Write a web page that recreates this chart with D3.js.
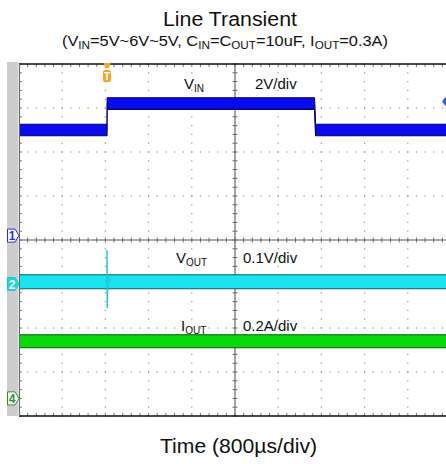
<!DOCTYPE html>
<html><head><meta charset="utf-8">
<script src="https://cdn.jsdelivr.net/npm/d3@7"></script>
<style>
html,body{margin:0;padding:0;background:#fff;}
svg{display:block;font-family:"Liberation Sans",Arial,Helvetica,sans-serif;}
</style></head>
<body><svg id="chart" width="446" height="464"></svg>
<script>
// ---- data ----
const timeDomainUs = [0, 8000];          // 10 div x 800 µs/div
const hDivisions = 10;
const vDivisions = 8;
const minorPerDiv = 5;

// VIN (CH1, 2 V/div)
const vinTimeUs = [0, 1630, 1633, 5472, 5492, 8000];
const vinVolts  = [4.8, 4.8, 6.0, 6.0, 4.8, 4.8];
// VOUT (CH2, 0.1 V/div, deviation around its offset)
const voutTimeUs = [0, 8000];
const voutVolts  = [0.005, 0.005];
const voutSpikeTimeUs = [1600, 1626, 1630, 1634, 1648, 1690];
const voutSpikeVolts  = [0.005, 0.005, 0.077, -0.055, 0.02, 0.005];
// IOUT (CH4, 0.2 A/div)
const ioutTimeUs = [0, 8000];
const ioutAmps   = [0.26, 0.26];

const channelIds = ["1", "2", "4"];
const channelPerDiv = [2, 0.1, 0.2];
const channelPositionDiv = [0.1, -1.0, -3.6];
const traceNames = [["V", "IN"], ["V", "OUT"], ["I", "OUT"]];
const scaleLabels = ["2V/div", "0.1V/div", "0.2A/div"];
const triggerTimeUs = 1630;
const triggerLevelDiv = 3.1;

const titleText = "Line Transient";
const xLabelText = "Time (800\u00b5s/div)";

// ---- layout ----
const svg = d3.select("#chart");
const L = 19, T = 64, B = 416, R = 451;
const x = d3.scaleLinear().domain(timeDomainUs).range([L, R]);
const yDiv = d3.scaleLinear().domain([-vDivisions/2, vDivisions/2]).range([B, T]);
const chY = (ci, v) => yDiv(channelPositionDiv[ci] + v / channelPerDiv[ci]);
const divX = d3.scaleLinear().domain([0, hDivisions]).range([L, R]);

// title
svg.append("text").attr("x", 230).attr("y", 26).attr("text-anchor", "middle")
  .attr("font-size", 20).attr("fill", "#111")
  .attr("textLength", 134).attr("lengthAdjust", "spacingAndGlyphs").text(titleText);
const sub = svg.append("text").attr("x", 225).attr("y", 46).attr("text-anchor", "middle")
  .attr("font-size", 14).attr("fill", "#111")
  .attr("textLength", 326).attr("lengthAdjust", "spacingAndGlyphs");
const subParts = [["(V",0],["IN",1],["=5V~6V~5V, C",0],["IN",1],["=C",0],["OUT",1],["=10uF, I",0],["OUT",1],["=0.3A)",0]];
subParts.forEach((p, i) => {
  const prev = i > 0 ? subParts[i-1][1] : 0;
  const t = sub.append("tspan").text(p[0])
    .attr("dy", p[1] && !prev ? 2.5 : (!p[1] && prev ? -2.5 : 0));
  if (p[1]) t.attr("font-size", 10);
});

// grey strip
svg.append("rect").attr("x", 7).attr("y", 62).attr("width", 11.5).attr("height", B - 62)
  .attr("fill", "#cdcdcd");

const g = svg.append("g");
svg.append("clipPath").attr("id", "clip").append("rect")
  .attr("x", L).attr("y", T - 1).attr("width", 446 - L).attr("height", B - T + 2);
const gc = g.append("g").attr("clip-path", "url(#clip)");

// dotted graticule
const minorX = d3.range(0, hDivisions * minorPerDiv + 1).map(k => divX(k / minorPerDiv));
const minorY = d3.range(0, vDivisions * minorPerDiv + 1).map(k => yDiv(-vDivisions/2 + k / minorPerDiv));
const dots = [];
d3.range(1, hDivisions).filter(k => k !== hDivisions/2).forEach(k => {
  minorY.forEach(yy => dots.push([divX(k), yy]));
});
d3.range(1, vDivisions).filter(k => k !== vDivisions/2).forEach(k => {
  minorX.forEach(xx => dots.push([xx, yDiv(-vDivisions/2 + k)]));
});
gc.selectAll("rect.dot").data(dots).join("rect").attr("class", "dot")
  .attr("x", d => d[0] - 0.6).attr("y", d => d[1] - 0.6).attr("width", 1.2).attr("height", 1.2)
  .attr("fill", "#909090");

// centre lines with ticks
const cx = divX(hDivisions/2), cy = yDiv(0);
gc.append("line").attr("x1", L).attr("x2", R).attr("y1", cy).attr("y2", cy)
  .attr("stroke", "#5a5a5a").attr("stroke-width", 1.1);
gc.append("line").attr("x1", cx).attr("x2", cx).attr("y1", T).attr("y2", B)
  .attr("stroke", "#5a5a5a").attr("stroke-width", 1.1);
gc.selectAll("line.tcx").data(minorX).join("line").attr("class", "tcx")
  .attr("x1", d => d).attr("x2", d => d).attr("y1", cy - 2.5).attr("y2", cy + 2.5)
  .attr("stroke", "#6a6a6a").attr("stroke-width", 1);
gc.selectAll("line.tcy").data(minorY).join("line").attr("class", "tcy")
  .attr("y1", d => d).attr("y2", d => d).attr("x1", cx - 2.5).attr("x2", cx + 2.5)
  .attr("stroke", "#6a6a6a").attr("stroke-width", 1);

// border ticks
gc.selectAll("line.tt").data(minorX).join("line").attr("class", "tt")
  .attr("x1", d => d).attr("x2", d => d).attr("y1", T).attr("y2", T + 3)
  .attr("stroke", "#777").attr("stroke-width", 1);
gc.selectAll("line.tb").data(minorX).join("line").attr("class", "tb")
  .attr("x1", d => d).attr("x2", d => d).attr("y1", B - 3).attr("y2", B)
  .attr("stroke", "#777").attr("stroke-width", 1);
gc.selectAll("line.tl").data(minorY).join("line").attr("class", "tl")
  .attr("y1", d => d).attr("y2", d => d).attr("x1", L).attr("x2", L + 3)
  .attr("stroke", "#777").attr("stroke-width", 1);
g.append("line").attr("x1", L).attr("x2", 446).attr("y1", T).attr("y2", T)
  .attr("stroke", "#111").attr("stroke-width", 1.3);
g.append("line").attr("x1", L).attr("x2", 446).attr("y1", B).attr("y2", B)
  .attr("stroke", "#111").attr("stroke-width", 1.3);
g.append("line").attr("x1", L + 0.5).attr("x2", L + 0.5).attr("y1", T).attr("y2", B)
  .attr("stroke", "#666").attr("stroke-width", 1);

// ---- traces ----
const traces = [
  {ci: 0, t: vinTimeUs, v: vinVolts, half: 5.8, fill: "#0a0af0", edge: "#00005c", thin: "#6f6fff"},
  {ci: 1, t: voutTimeUs, v: voutVolts, half: 7, fill: "#19e3ef", edge: "#0b5f6c", thin: "#22d8e6"},
  {ci: 2, t: ioutTimeUs, v: ioutAmps, half: 6.5, fill: "#0ad80a", edge: "#045f04", thin: "#22d822"}
];
traces.forEach(tr => {
  const pts = tr.t.map((t, i) => [t, tr.v[i]]);
  const line = d3.line().x(d => x(d[0])).y(d => chY(tr.ci, d[1]));
  gc.append("path").attr("d", line(pts)).attr("fill", "none")
    .attr("stroke", tr.thin).attr("stroke-width", 1.2);
  const area = d3.area().x(d => x(d[0]))
    .y0(d => chY(tr.ci, d[1]) + tr.half).y1(d => chY(tr.ci, d[1]) - tr.half);
  gc.append("path").attr("d", area(pts)).attr("fill", tr.fill)
    .attr("stroke", tr.edge).attr("stroke-width", 1.1).attr("stroke-linejoin", "bevel");
});
// VOUT spike
const spikePts = voutSpikeTimeUs.map((t, i) => [t, voutSpikeVolts[i]]);
gc.append("path").attr("d", d3.line().x(d => x(d[0])).y(d => chY(1, d[1]))(spikePts))
  .attr("fill", "none").attr("stroke", "#20c8d8").attr("stroke-width", 1.4);

// trace labels
const labelX = [184, 176, 181];
const labelY = [89, 263, 331];
traceNames.forEach((nm, i) => {
  const t = g.append("text").attr("x", labelX[i]).attr("y", labelY[i])
    .attr("font-size", 15).attr("fill", "#111");
  t.append("tspan").text(nm[0]);
  t.append("tspan").text(nm[1]).attr("font-size", 10).attr("dy", 3);
  g.append("text").attr("x", i === 0 ? 255 : 243).attr("y", labelY[i])
    .attr("font-size", 15).attr("fill", "#111").text(scaleLabels[i]);
});

// channel markers on the strip
const markerStyle = [
  {fill: "#ffffff", stroke: "#2a2aff", text: "#2a2aff"},
  {fill: "#18d8e8", stroke: "#18c8d8", text: "#ffffff"},
  {fill: "#ffffff", stroke: "#2a962a", text: "#2a962a"}
];
channelIds.forEach((id, i) => {
  const yy = yDiv(channelPositionDiv[i]);
  const s = markerStyle[i];
  g.append("path")
    .attr("d", `M7.5,${yy-6.5} L15,${yy-6.5} L19,${yy} L15,${yy+6.5} L7.5,${yy+6.5} Z`)
    .attr("fill", s.fill).attr("stroke", s.stroke).attr("stroke-width", 1);
  g.append("text").attr("x", 12).attr("y", yy + 4.5).attr("text-anchor", "middle")
    .attr("font-size", 12).attr("font-weight", "bold").attr("fill", s.text).text(id);
});

// trigger marker
const tx = x(triggerTimeUs);
g.append("path").attr("d", `M${tx-3.5},${T-1} L${tx+3.5},${T-1} L${tx+2},${T+4} L${tx-2},${T+4} Z`)
  .attr("fill", "#f5a623");
g.append("rect").attr("x", tx - 4).attr("y", T + 6).attr("width", 8).attr("height", 12)
  .attr("rx", 2).attr("fill", "#f5a623");
g.append("text").attr("x", tx).attr("y", T + 16).attr("text-anchor", "middle")
  .attr("font-size", 10).attr("font-weight", "bold").attr("fill", "#fff").text("T");
// trigger level marker (right edge)
const ty = yDiv(triggerLevelDiv) - 2;
g.append("path").attr("d", `M442,${ty} L446,${ty-5} L450,${ty} L446,${ty+5} Z`)
  .attr("fill", "#2a5aff");

// x label
svg.append("text").attr("x", 238.5).attr("y", 453).attr("text-anchor", "middle")
  .attr("font-size", 20).attr("fill", "#111")
  .attr("textLength", 157).attr("lengthAdjust", "spacingAndGlyphs").text(xLabelText);
</script></body></html>
